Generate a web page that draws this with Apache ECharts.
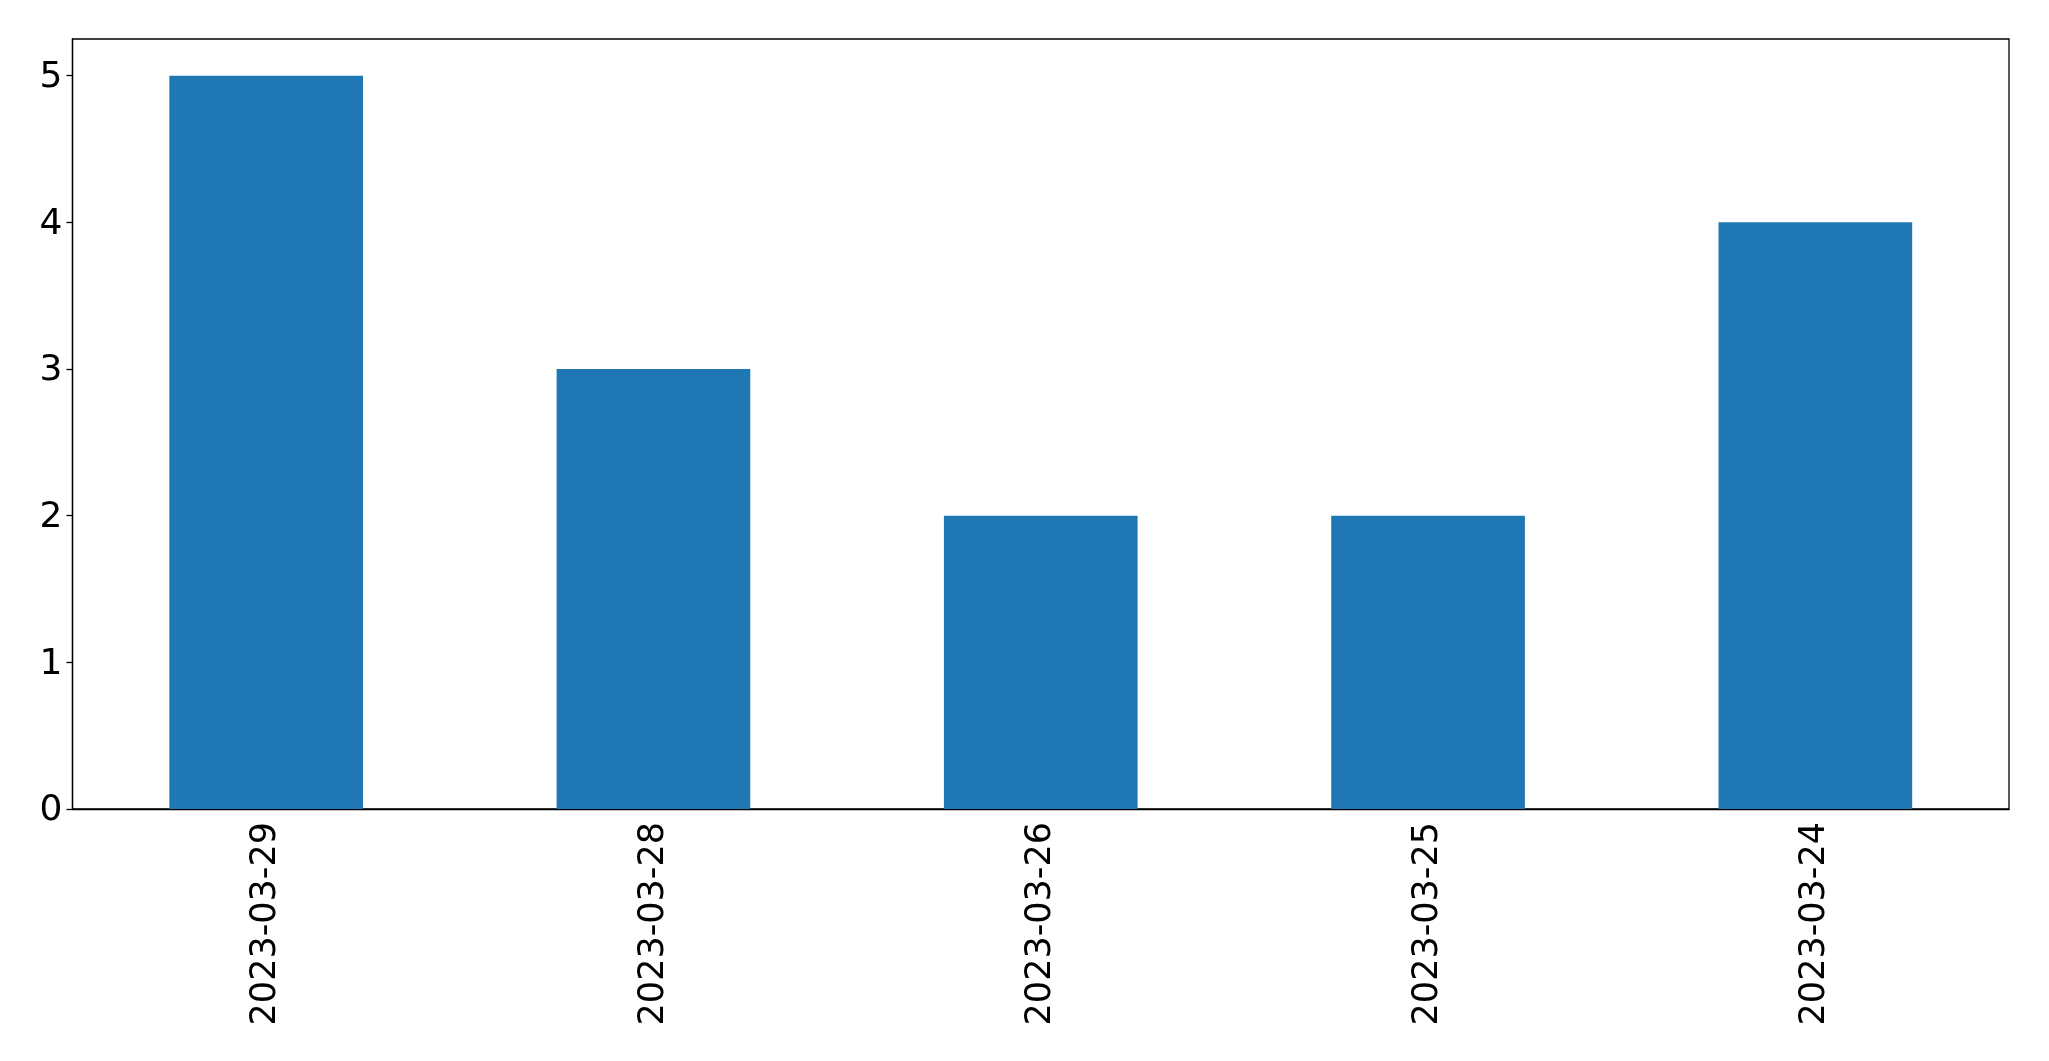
<!DOCTYPE html>
<html>
<head>
<meta charset="utf-8">
<script src="https://cdn.jsdelivr.net/npm/echarts@6/dist/echarts.min.js"></script>
<style>html,body{margin:0;padding:0;background:#fff;}#c{width:2049px;height:1061px;}</style>
</head>
<body>
<div id="c"></div>
<script>
const categories = ['2023-03-29', '2023-03-28', '2023-03-26', '2023-03-25', '2023-03-24'];
const values = [5, 3, 2, 2, 4];
const yMax = 5.25;

const chart = echarts.init(document.getElementById('c'), null, {renderer: 'canvas'});
const font = 'DejaVu Sans';
chart.setOption({
  animation: false,
  grid: {left: 72.5, right: 40, top: 39, bottom: 252, show: true, borderColor: '#000', borderWidth: 1.3, backgroundColor: 'transparent'},
  xAxis: {
    type: 'category',
    data: categories,
    axisLine: {lineStyle: {color: '#000', width: 1.3}},
    axisTick: {alignWithLabel: true, length: 6, lineStyle: {color: '#000', width: 1.3}},
    axisLabel: {rotate: 90, color: '#000', fontFamily: font, fontSize: 35, margin: 13, interval: 0}
  },
  yAxis: {
    type: 'value',
    min: 0, max: yMax, interval: 1,
    splitLine: {show: false},
    axisLine: {show: true, lineStyle: {color: '#000', width: 1.3}},
    axisTick: {show: true, length: 6, lineStyle: {color: '#000', width: 1.3}},
    axisLabel: {color: '#000', fontFamily: font, fontSize: 36, margin: 10, showMaxLabel: false,
      verticalAlign: 'top', lineHeight: 36, padding: [-16, 0, 0, 0],
      formatter: v => Number.isInteger(v) ? String(v) : ''}
  },
  series: [{
    type: 'bar',
    data: values,
    barWidth: '50%',
    itemStyle: {color: '#1f77b4'}
  }]
});
</script>
</body>
</html>
